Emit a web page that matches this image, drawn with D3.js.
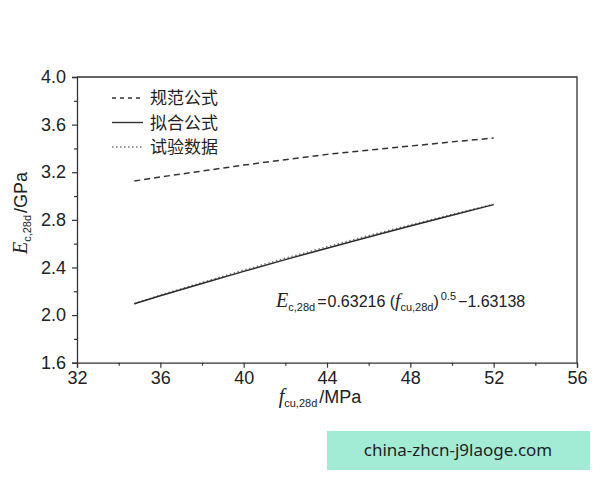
<!DOCTYPE html>
<html>
<head>
<meta charset="utf-8">
<script src="https://cdn.jsdelivr.net/npm/d3@7"></script>
<style>
    body { margin: 0; background: #fff; }
    text { font-family: "Liberation Sans", Arial, sans-serif; fill: #222; }
</style>
</head>
<body>
<script>
    // Data
    let fcu = [34.75, 36, 38, 40, 42, 44, 46, 48, 50, 52];
    let codeE = [3.126, 3.16, 3.21, 3.26, 3.305, 3.35, 3.385, 3.42, 3.455, 3.487];
    let fitE = [2.095, 2.162, 2.265, 2.367, 2.466, 2.562, 2.656, 2.749, 2.839, 2.928];
    let testE = [2.095, 2.168, 2.274, 2.378, 2.478, 2.574, 2.668, 2.758, 2.846, 2.932];
    let seriesNames = ["规范公式", "拟合公式", "试验数据"];
    let xTicks = [32, 36, 40, 44, 48, 52, 56];
    let yTicks = [1.6, 2.0, 2.4, 2.8, 3.2, 3.6, 4.0];

    let width = 600, height = 480;
    let svg = d3.select("body")
        .append("svg")
        .attr("width", width)
        .attr("height", height);

    let x = d3.scaleLinear().domain([32, 56]).range([77, 577]);
    let y = d3.scaleLinear().domain([1.6, 4.0]).range([362.7, 77]);

    let axisColor = "#333";

    // frame (top + right)
    svg.append("path")
        .attr("d", `M${x(32)},${y(4.0)}H${x(56)}V${y(1.6)}`)
        .attr("fill", "none")
        .attr("stroke", axisColor)
        .attr("stroke-width", 1.3);

    // minor ticks
    let xMinor = d3.range(34, 56, 4);
    let yMinor = d3.range(1.8, 4.0, 0.4);

    svg.append("g")
        .attr("transform", `translate(0, ${y(1.6)})`)
        .call(d3.axisBottom(x).tickValues(xTicks).tickSize(5).tickPadding(4).tickFormat(d3.format("d")));
    svg.append("g")
        .attr("transform", `translate(0, ${y(1.6)})`)
        .call(d3.axisBottom(x).tickValues(xMinor).tickSize(3).tickFormat(""))
        .select(".domain").remove();

    svg.append("g")
        .attr("transform", `translate(${x(32)}, 0)`)
        .call(d3.axisLeft(y).tickValues(yTicks).tickSize(5).tickPadding(6).tickFormat(d3.format(".1f")));
    svg.append("g")
        .attr("transform", `translate(${x(32)}, 0)`)
        .call(d3.axisLeft(y).tickValues(yMinor).tickSize(3).tickFormat(""))
        .select(".domain").remove();

    svg.selectAll(".domain").attr("stroke", axisColor).attr("stroke-width", 1.3);
    svg.selectAll(".tick line").attr("stroke", axisColor).attr("stroke-width", 1.2);
    svg.selectAll(".tick text")
        .style("font-family", "'Liberation Sans', Arial, sans-serif")
        .style("font-size", "18px")
        .attr("fill", "#2a2a2a");

    // lines
    let line = (vals) => d3.line()
        .x((d, i) => x(fcu[i]))
        .y((d) => y(d))(vals);

    svg.append("path")
        .attr("d", line(codeE))
        .attr("fill", "none")
        .attr("stroke", "#333")
        .attr("stroke-width", 1.5)
        .attr("stroke-dasharray", "6,4");

    svg.append("path")
        .attr("d", line(testE))
        .attr("fill", "none")
        .attr("stroke", "#777")
        .attr("stroke-width", 1.4)
        .attr("stroke-dasharray", "1.5,2.5");

    svg.append("path")
        .attr("d", line(fitE))
        .attr("fill", "none")
        .attr("stroke", "#2a2a2a")
        .attr("stroke-width", 1.5);

    // legend
    let dashes = ["4,4", null, "1.5,2.5"];
    let legend = svg.append("g");
    seriesNames.forEach((name, i) => {
        let ly = 98 + i * 24.5;
        legend.append("line")
            .attr("x1", 112).attr("x2", 143)
            .attr("y1", ly).attr("y2", ly)
            .attr("stroke", i == 2 ? "#777" : "#333")
            .attr("stroke-width", 1.4)
            .attr("stroke-dasharray", dashes[i]);
        legend.append("text")
            .attr("x", 150)
            .attr("y", ly + 6)
            .style("font-family", "'Noto Sans CJK SC', sans-serif")
            .style("font-size", "17px")
            .text(name);
    });

    // axis titles
    let serif = "'Liberation Serif', 'DejaVu Serif', serif";
    let xt = svg.append("text")
        .attr("x", 320)
        .attr("y", 403)
        .attr("text-anchor", "middle");
    xt.append("tspan").style("font-family", serif).style("font-style", "italic").style("font-size", "20px").text("f");
    xt.append("tspan").style("font-size", "11px").attr("dy", 4).text("cu,28d");
    xt.append("tspan").style("font-size", "18px").attr("dy", -4).attr("dx", 2).text("/MPa");

    let yt = svg.append("text")
        .attr("transform", "translate(27, 213) rotate(-90)")
        .attr("text-anchor", "middle");
    yt.append("tspan").style("font-family", serif).style("font-style", "italic").style("font-size", "20px").text("E");
    yt.append("tspan").style("font-size", "11px").attr("dy", 4).text("c,28d");
    yt.append("tspan").style("font-size", "18px").attr("dy", -4).attr("dx", 2).text("/GPa");

    // fitted equation
    let eq = svg.append("text")
        .attr("x", 276)
        .attr("y", 307);
    eq.append("tspan").style("font-family", serif).style("font-style", "italic").style("font-size", "20px").text("E");
    eq.append("tspan").style("font-size", "11px").attr("dy", 4).text("c,28d");
    eq.append("tspan").style("font-size", "16px").attr("dy", -4).attr("dx", 2).text("=");
    eq.append("tspan").style("font-size", "16px").attr("dx", 1).text("0.63216 (");
    eq.append("tspan").style("font-family", serif).style("font-style", "italic").style("font-size", "19px").text("f");
    eq.append("tspan").style("font-size", "11px").attr("dy", 4).text("cu,28d");
    eq.append("tspan").style("font-size", "16px").attr("dy", -4).text(")");
    eq.append("tspan").style("font-size", "11px").attr("dy", -7).attr("dx", 2).text("0.5");
    eq.append("tspan").style("font-size", "16px").attr("dy", 7).attr("dx", 2).text("−1.63138");

    // watermark
    svg.append("rect")
        .attr("x", 327).attr("y", 431)
        .attr("width", 263).attr("height", 39)
        .attr("fill", "#a2ecd5");
    svg.append("text")
        .attr("x", 458)
        .attr("y", 456)
        .attr("text-anchor", "middle")
        .style("font-family", "'Noto Sans', sans-serif")
        .style("font-size", "17px")
        .attr("fill", "#3b6c9c")
        .text("china-zhcn-j9laoge.com");
</script>
</body>
</html>
